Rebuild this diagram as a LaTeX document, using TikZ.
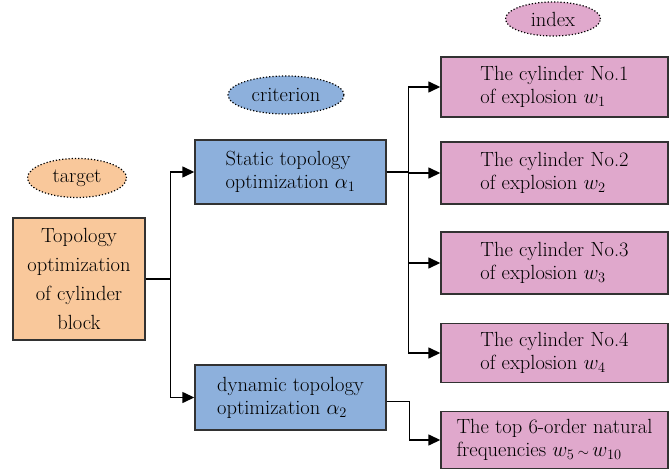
\documentclass[tikz,border=0pt]{standalone}
\usepackage{amsmath,amssymb}
\usepackage{xcolor}
\usepackage{tikz}
\usetikzlibrary{shapes.geometric,arrows.meta}
\definecolor{targetfill}{RGB}{249,200,155}
\definecolor{critfill}{RGB}{141,176,220}
\definecolor{indexfill}{RGB}{224,168,204}
\definecolor{edge}{RGB}{50,50,50}

\begin{document}
\begin{tikzpicture}[x=1pt, y=-1pt,
  every node/.style={font=\fontsize{20.5}{23}\selectfont, inner sep=0pt},
  box/.style={draw=edge, line width=1.4pt, rectangle},
  tag/.style={ellipse, draw=black, dotted, line width=1.2pt},
  conn/.style={line width=1.4pt, -{Triangle[length=12pt,width=11pt]}}]
  \useasboundingbox (0,0) rectangle (669,470);
  \node[tag, fill=targetfill, minimum width=99, minimum height=39] (target) at (77,178) {target};
  \node[tag, fill=critfill, minimum width=116, minimum height=38] (crit) at (286,95) {criterion};
  \node[tag, fill=indexfill, minimum width=95, minimum height=34] (index) at (553,19) {index};
  \node[box, fill=targetfill, minimum width=132, minimum height=122, align=center,
        font=\fontsize{20.5}{29}\selectfont] (topo) at (79,279)
        {Topology\\optimization\\of cylinder\\block};
  \node[box, fill=critfill, minimum width=191, minimum height=64, align=left] (static) at (290.5,172)
        {Static topology\\optimization $\alpha_1$};
  \node[box, fill=critfill, minimum width=191, minimum height=65, align=left] (dynamic) at (290.5,397.5)
        {dynamic topology\\optimization $\alpha_2$};
  \node[box, fill=indexfill, minimum width=227, minimum height=60, align=left] (w1) at (554.5,87)
        {The cylinder No.1\\of explosion $w_1$};
  \node[box, fill=indexfill, minimum width=227, minimum height=62, align=left] (w2) at (554.5,173)
        {The cylinder No.2\\of explosion $w_2$};
  \node[box, fill=indexfill, minimum width=227, minimum height=62, align=left] (w3) at (554.5,263)
        {The cylinder No.3\\of explosion $w_3$};
  \node[box, fill=indexfill, minimum width=227, minimum height=59, align=left] (w4) at (554.5,353)
        {The cylinder No.4\\of explosion $w_4$};
  \node[box, fill=indexfill, minimum width=227, minimum height=57, align=left] (w5) at (554.5,440)
        {The top 6-order natural\\frequencies $w_5\,{\scriptstyle\sim}\,w_{10}$};
  \draw[conn] (topo.east) -- ++(25,0) |- (static.west);
  \draw[conn] (topo.east) -- ++(25,0) |- (dynamic.west);
  \foreach \n in {w1,w2,w3,w4}
    \draw[conn] (static.east) -- ++(22,0) |- (\n.west);
  \draw[conn] ([yshift=-4]dynamic.east) -- ++(23,0) |- (w5.west);
\end{tikzpicture}
\end{document}
